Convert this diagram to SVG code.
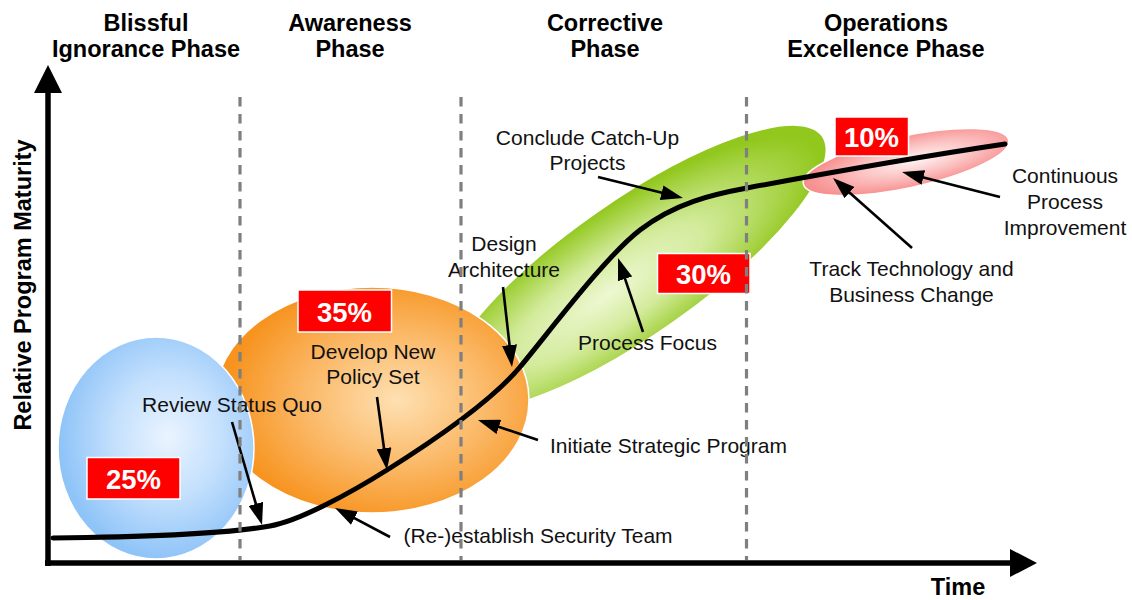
<svg xmlns="http://www.w3.org/2000/svg" width="1132" height="600" viewBox="0 0 1132 600">
  <defs>
    <radialGradient id="gBlue" cx="0.56" cy="0.45" r="0.55">
      <stop offset="0" stop-color="#eaf4ff"/>
      <stop offset="0.5" stop-color="#c4e0fd"/>
      <stop offset="1" stop-color="#8fc4f8"/>
    </radialGradient>
    <radialGradient id="gOrange" cx="0.58" cy="0.5" r="0.55">
      <stop offset="0" stop-color="#fee0b2"/>
      <stop offset="0.5" stop-color="#fbbb6c"/>
      <stop offset="1" stop-color="#f7931e"/>
    </radialGradient>
    <radialGradient id="gGreen" cx="0.42" cy="0.55" r="0.55">
      <stop offset="0" stop-color="#eef8d2"/>
      <stop offset="0.45" stop-color="#d3eb9c"/>
      <stop offset="1" stop-color="#92c81e"/>
    </radialGradient>
    <radialGradient id="gPink" cx="0.55" cy="0.5" r="0.55">
      <stop offset="0" stop-color="#fff4f4"/>
      <stop offset="0.5" stop-color="#fcc2c2"/>
      <stop offset="1" stop-color="#f78b8b"/>
    </radialGradient>
    <marker id="ah" markerUnits="userSpaceOnUse" markerWidth="22" markerHeight="15" refX="14" refY="7.5" orient="auto">
      <path d="M0,0 L22,7.5 L0,15 z" fill="#000"/>
    </marker>
    <style>
      .title{font-family:"Liberation Sans",Arial,sans-serif;font-weight:bold;font-size:23.5px;fill:#000;text-anchor:middle}
      .lbl{font-family:"Liberation Sans",Arial,sans-serif;font-size:21px;fill:#111;text-anchor:middle}
      .pct{font-family:"Liberation Sans",Arial,sans-serif;font-weight:bold;font-size:27.5px;fill:#fff;text-anchor:middle}
      .box{fill:#ff0000;stroke:#fff;stroke-width:1.5}
      .blob{stroke:#fff;stroke-width:1.5}
      .arr{fill:none;stroke:#000;stroke-width:2.6;marker-end:url(#ah)}
      .div{stroke:#7f7f7f;stroke-width:3.2;stroke-dasharray:9.5 7.5}
    </style>
  </defs>
  <rect width="1132" height="600" fill="#fff"/>

  <g id="phase-titles">
    <text class="title" x="146" y="31">Blissful</text>
    <text class="title" x="146" y="57">Ignorance Phase</text>
    <text class="title" x="350" y="31">Awareness</text>
    <text class="title" x="350" y="57">Phase</text>
    <text class="title" x="605" y="31">Corrective</text>
    <text class="title" x="605" y="57">Phase</text>
    <text class="title" x="886" y="31">Operations</text>
    <text class="title" x="886" y="57">Excellence Phase</text>
  </g>

  <g id="node-corrective">
    <ellipse class="blob" cx="634" cy="268" rx="230" ry="67" transform="rotate(-35 634 268)" fill="url(#gGreen)"/>
  </g>
  <g id="node-awareness">
    <ellipse class="blob" cx="372" cy="400" rx="157" ry="113" fill="url(#gOrange)"/>
  </g>
  <g id="node-blissful">
    <ellipse class="blob" cx="156" cy="448" rx="98" ry="111" fill="url(#gBlue)"/>
  </g>
  <g id="node-operations">
    <ellipse class="blob" cx="906" cy="162" rx="105" ry="26" transform="rotate(-12 906 162)" fill="url(#gPink)"/>
  </g>

  <g id="pct-25"><rect class="box" x="87" y="457.5" width="93" height="41.5"/><text class="pct" x="133.5" y="488.5">25%</text></g>
  <g id="pct-35"><rect class="box" x="298" y="290" width="93.5" height="42"/><text class="pct" x="344.5" y="321.5">35%</text></g>
  <g id="pct-30"><rect class="box" x="657.5" y="253.5" width="92.5" height="40"/><text class="pct" x="703.5" y="283.5">30%</text></g>
  <g id="pct-10"><rect class="box" x="835" y="117" width="73.5" height="39"/><text class="pct" x="871.5" y="146.5">10%</text></g>

  <g id="axes">
    <line x1="48" y1="566" x2="48" y2="90" stroke="#000" stroke-width="5.5"/>
    <polygon points="48,65 34,93 62,93" fill="#000"/>
    <line x1="45" y1="563" x2="1012" y2="563" stroke="#000" stroke-width="5.5"/>
    <polygon points="1037,563 1010,549 1010,577" fill="#000"/>
    <text class="title" transform="translate(31,285) rotate(-90)">Relative Program Maturity</text>
    <text class="title" x="958" y="595">Time</text>
  </g>

  <g id="connectors">
    <path d="M53,538 C150,537 230,533 270,526 C300,520.75 352,492 387,470 C422,448 490,403 520,367 C550,331 605,257 640,230 C675,203 712,194.5 747,188 C827,173 925,156 1005,144" fill="none" stroke="#000" stroke-width="5" stroke-linecap="round"/>
    <line class="arr" x1="232" y1="422" x2="259.8" y2="517.3"/>
    <line class="arr" x1="377" y1="397" x2="385.9" y2="462.1"/>
    <line class="arr" x1="390" y1="537" x2="342.1" y2="511.7"/>
    <line class="arr" x1="538" y1="440" x2="485.6" y2="422.5"/>
    <line class="arr" x1="503" y1="287" x2="511.1" y2="359"/>
    <line class="arr" x1="643" y1="332" x2="620.6" y2="265.6"/>
    <line class="arr" x1="598" y1="177" x2="675.2" y2="196.1"/>
    <line class="arr" x1="912" y1="248" x2="839" y2="183.3"/>
    <line class="arr" x1="1000" y1="197" x2="909.8" y2="174"/>
  </g>

  <g id="labels">
    <text class="lbl" x="232" y="412">Review Status Quo</text>
    <text class="lbl" x="373" y="359">Develop New</text>
    <text class="lbl" x="373" y="384">Policy Set</text>
    <text class="lbl" x="538" y="543">(Re-)establish Security Team</text>
    <text class="lbl" x="668.5" y="453">Initiate Strategic Program</text>
    <text class="lbl" x="504" y="251">Design</text>
    <text class="lbl" x="504" y="276.5">Architecture</text>
    <text class="lbl" x="587.5" y="144.5">Conclude Catch-Up</text>
    <text class="lbl" x="587.5" y="169.5">Projects</text>
    <text class="lbl" x="647.5" y="350">Process Focus</text>
    <text class="lbl" x="911.5" y="276">Track Technology and</text>
    <text class="lbl" x="911.5" y="302">Business Change</text>
    <text class="lbl" x="1065" y="183">Continuous</text>
    <text class="lbl" x="1065" y="209">Process</text>
    <text class="lbl" x="1065" y="235">Improvement</text>
  </g>

  <g id="phase-dividers">
    <line class="div" x1="240" y1="97" x2="240" y2="560"/>
    <line class="div" x1="461" y1="97" x2="461" y2="560"/>
    <line class="div" x1="746.5" y1="97" x2="746.5" y2="560"/>
  </g>
</svg>
